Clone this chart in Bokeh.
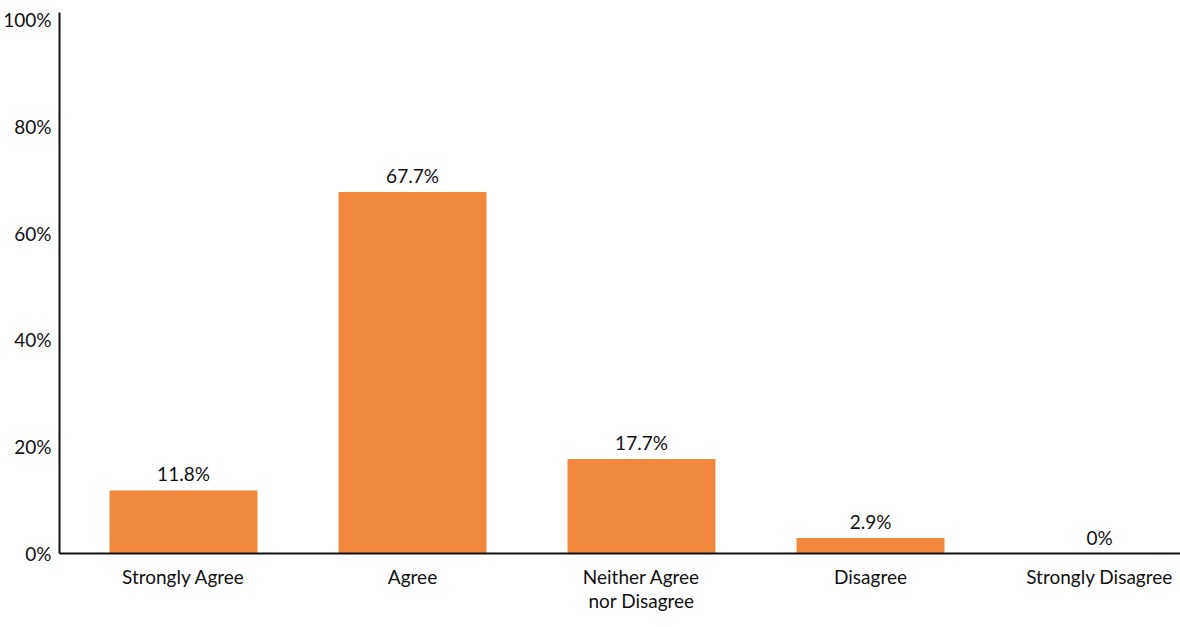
from bokeh.plotting import figure
from bokeh.models import ColumnDataSource, Range1d, FixedTicker, LabelSet
from bokeh.core.properties import value
from bokeh.embed import file_html
from bokeh.resources import INLINE

categories = ["Strongly Agree", "Agree", "Neither Agree\nnor Disagree", "Disagree", "Strongly Disagree"]
values = [11.8, 67.7, 17.7, 2.9, 0.0]
value_labels = ["11.8%", "67.7%", "17.7%", "2.9%", "0%"]
y_ticks = [0, 20, 40, 60, 80, 100]
y_tick_labels = ["0%", "20%", "40%", "60%", "80%", "100%"]

xs = list(range(len(categories)))
src = ColumnDataSource(dict(x=xs, top=values, lab=value_labels))

FONT = "Lato"
BAR = "#F0883E"
FS = "19px"

p = figure(width=1180, height=620, output_backend="svg", toolbar_location=None,
           x_range=Range1d(-0.5415, 4.3537), y_range=Range1d(0, 101.3),
           min_border_left=59, min_border_right=0, min_border_top=12, min_border_bottom=67)
p.outline_line_color = None
p.grid.visible = False
p.background_fill_color = "white"

p.vbar(x="x", top="top", width=0.646, bottom=0, source=src, fill_color=BAR, line_color=None)

labels = LabelSet(x="x", y="top", text="lab", source=src, text_align="center", text_baseline="bottom",
                  y_offset=5, text_font=value(FONT), text_font_size=FS, text_color="#111111")
p.add_layout(labels)

p.xaxis.ticker = FixedTicker(ticks=xs)
p.xaxis.major_label_overrides = {i: c for i, c in enumerate(categories)}
p.yaxis.ticker = FixedTicker(ticks=y_ticks)
p.yaxis.major_label_overrides = {t: l for t, l in zip(y_ticks, y_tick_labels)}

for ax in (p.xaxis, p.yaxis):
    ax.axis_line_color = "#111111"
    ax.axis_line_width = 2
    ax.major_tick_line_color = None
    ax.minor_tick_line_color = None
    ax.major_tick_out = 0
    ax.major_tick_in = 0
    ax.minor_tick_out = 0
    ax.minor_tick_in = 0
    ax.major_label_text_font = FONT
    ax.major_label_text_font_size = FS
    ax.major_label_text_color = "#111111"

p.xaxis.major_label_standoff = 11
p.xaxis.major_label_text_line_height = 1.08
p.yaxis.major_label_standoff = 8

open("out.html", "w").write(file_html(p, INLINE))
